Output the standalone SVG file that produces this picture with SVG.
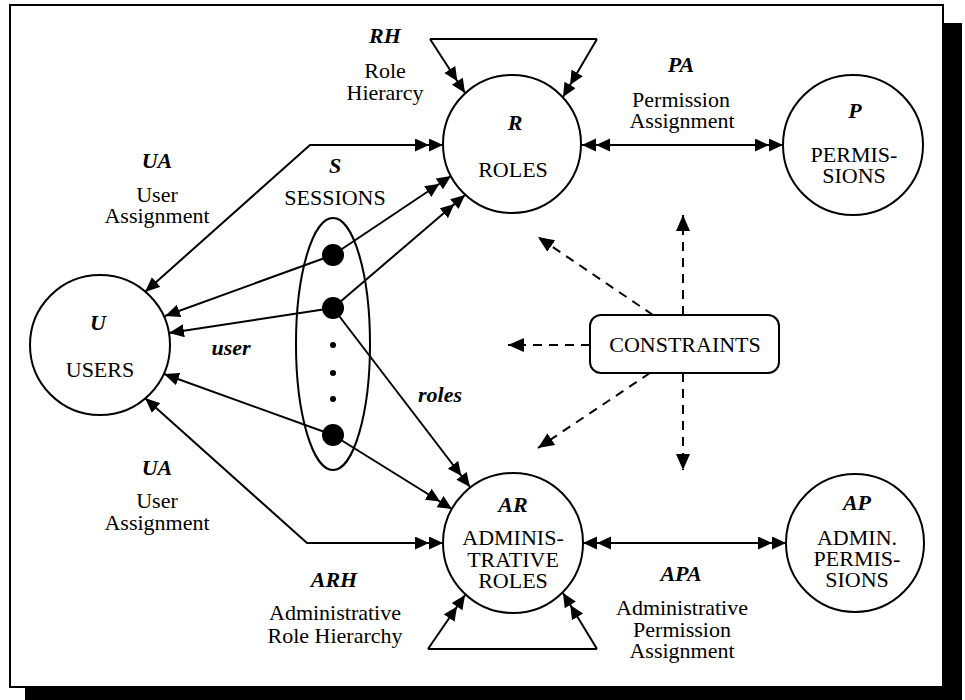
<svg xmlns="http://www.w3.org/2000/svg" width="965" height="700" viewBox="0 0 965 700">
<style>
  text { font-family: "Liberation Serif", "Times New Roman", serif; font-size: 22px; fill: #000; text-anchor: middle; }
  .it { font-style: italic; font-weight: bold; }
  .node { fill: #fff; stroke: #000; stroke-width: 2; }
  .ln { fill: none; stroke: #000; stroke-width: 2; }
  .dash { fill: none; stroke: #000; stroke-width: 2; stroke-dasharray: 9 7; }
</style>
<defs>
  <marker id="dbl" markerUnits="userSpaceOnUse" markerWidth="30" markerHeight="14" refX="28" refY="6.5" orient="auto-start-reverse" viewBox="0 0 30 14">
    <path d="M0,0 L14,6.5 L0,13 Z M14,0 L28,6.5 L14,13 Z" fill="#000"/>
  </marker>
  <marker id="one" markerUnits="userSpaceOnUse" markerWidth="16" markerHeight="14" refX="15" refY="6.5" orient="auto-start-reverse" viewBox="0 0 16 14">
    <path d="M0,0 L15,6.5 L0,13 Z" fill="#000"/>
  </marker>
  <marker id="dsh" markerUnits="userSpaceOnUse" markerWidth="18" markerHeight="16" refX="16" refY="7" orient="auto" viewBox="0 0 18 16">
    <path d="M0,0 L16,7 L0,14 Z" fill="#000"/>
  </marker>
</defs>
<rect x="0" y="0" width="965" height="700" fill="#fff"/>
<rect x="943" y="23" width="19" height="677" fill="#000"/>
<rect x="25" y="688" width="937" height="12" fill="#000"/>
<rect x="10" y="5" width="933" height="682" fill="#fff" stroke="#000" stroke-width="2"/>

<g id="connectors">
  <polyline class="ln" points="430,39 597,39"/>
  <line class="ln" x1="430" y1="39" x2="465" y2="93" marker-end="url(#dbl)"/>
  <line class="ln" x1="597" y1="39" x2="563" y2="97" marker-end="url(#dbl)"/>
  <polyline class="ln" points="428,649 597,649"/>
  <line class="ln" x1="428" y1="649" x2="465" y2="595" marker-end="url(#dbl)"/>
  <line class="ln" x1="597" y1="649" x2="563" y2="593" marker-end="url(#dbl)"/>
  <polyline class="ln" points="145,292 310,145 443,145" marker-start="url(#one)" marker-end="url(#dbl)"/>
  <polyline class="ln" points="145,398 307,543 443,543" marker-start="url(#one)" marker-end="url(#dbl)"/>
  <line class="ln" x1="333" y1="255" x2="165" y2="316" marker-end="url(#one)"/>
  <line class="ln" x1="333" y1="255" x2="451" y2="176" marker-end="url(#dbl)"/>
  <line class="ln" x1="333" y1="308" x2="169" y2="333" marker-end="url(#one)"/>
  <line class="ln" x1="333" y1="308" x2="465" y2="195" marker-end="url(#dbl)"/>
  <line class="ln" x1="333" y1="308" x2="470" y2="487" marker-end="url(#dbl)"/>
  <line class="ln" x1="333" y1="435" x2="164" y2="374" marker-end="url(#one)"/>
  <line class="ln" x1="333" y1="435" x2="452" y2="509" marker-end="url(#dbl)"/>
  <line class="ln" x1="582" y1="145" x2="783" y2="145" marker-start="url(#dbl)" marker-end="url(#dbl)"/>
  <line class="ln" x1="583" y1="543" x2="786" y2="543" marker-start="url(#dbl)" marker-end="url(#dbl)"/>
  <line class="dash" x1="653" y1="315" x2="538" y2="237" marker-end="url(#dsh)"/>
  <line class="dash" x1="683" y1="315" x2="683" y2="215" marker-end="url(#dsh)"/>
  <line class="dash" x1="590" y1="345" x2="508" y2="345" marker-end="url(#dsh)"/>
  <line class="dash" x1="650" y1="373" x2="538" y2="448" marker-end="url(#dsh)"/>
  <line class="dash" x1="683" y1="373" x2="683" y2="470" marker-end="url(#dsh)"/>
</g>

<g id="label-rh">
  <text class="it" x="385" y="43">RH</text>
  <text x="385" y="78">Role</text>
  <text x="385" y="100">Hierarcy</text>
</g>
<g id="label-ua-top">
  <text class="it" x="157" y="168">UA</text>
  <text x="157" y="202">User</text>
  <text x="157" y="223">Assignment</text>
</g>
<g id="label-pa">
  <text class="it" x="681" y="72">PA</text>
  <text x="681" y="107">Permission</text>
  <text x="682" y="128">Assignment</text>
</g>
<g id="label-ua-bottom">
  <text class="it" x="157" y="475">UA</text>
  <text x="157" y="508">User</text>
  <text x="157" y="530">Assignment</text>
</g>
<g id="label-arh">
  <text class="it" x="334" y="587">ARH</text>
  <text x="335" y="620">Administrative</text>
  <text x="335" y="643">Role Hierarchy</text>
</g>
<g id="label-apa">
  <text class="it" x="681" y="581">APA</text>
  <text x="682" y="615">Administrative</text>
  <text x="682" y="637">Permission</text>
  <text x="682" y="658">Assignment</text>
</g>
<g id="label-user"><text class="it" x="231" y="355">user</text></g>
<g id="label-roles"><text class="it" x="440" y="402">roles</text></g>

<g id="node-roles">
  <circle class="node" cx="512" cy="144" r="69"/>
  <text class="it" x="515" y="130">R</text>
  <text x="513" y="177">ROLES</text>
</g>
<g id="node-permissions">
  <circle class="node" cx="853" cy="145" r="70"/>
  <text class="it" x="855" y="118">P</text>
  <text x="854" y="162">PERMIS-</text>
  <text x="854" y="183">SIONS</text>
</g>
<g id="node-users">
  <circle class="node" cx="100" cy="345" r="70"/>
  <text class="it" x="98" y="330">U</text>
  <text x="100" y="377">USERS</text>
</g>
<g id="node-sessions">
  <text class="it" x="335" y="173">S</text>
  <text x="335" y="205">SESSIONS</text>
  <ellipse cx="333" cy="344" rx="37" ry="126" fill="none" stroke="#000" stroke-width="2"/>
  <circle cx="333" cy="255" r="11" fill="#000"/>
  <circle cx="333" cy="308" r="11" fill="#000"/>
  <circle cx="333" cy="345" r="3" fill="#000"/>
  <circle cx="333" cy="373" r="3" fill="#000"/>
  <circle cx="333" cy="399" r="3" fill="#000"/>
  <circle cx="333" cy="435" r="11" fill="#000"/>
</g>
<g id="node-constraints">
  <rect x="590" y="315" width="189" height="58" rx="11" fill="#fff" stroke="#000" stroke-width="2"/>
  <text x="685" y="352">CONSTRAINTS</text>
</g>
<g id="node-admin-roles">
  <circle class="node" cx="513" cy="543" r="70"/>
  <text class="it" x="513" y="512">AR</text>
  <text x="513" y="545">ADMINIS-</text>
  <text x="513" y="567">TRATIVE</text>
  <text x="513" y="588">ROLES</text>
</g>
<g id="node-admin-permissions">
  <circle class="node" cx="855" cy="543" r="69"/>
  <text class="it" x="857" y="510">AP</text>
  <text x="857" y="545">ADMIN.</text>
  <text x="857" y="566">PERMIS-</text>
  <text x="857" y="587">SIONS</text>
</g>
</svg>
